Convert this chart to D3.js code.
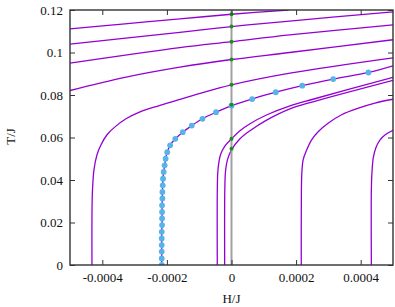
<!DOCTYPE html>
<html>
<head>
<meta charset="utf-8">
<script src="https://cdn.jsdelivr.net/npm/d3@7"></script>
<style>
    body { margin: 0; background: #fff; }
</style>
</head>
<body>
<div class="chart"></div>
<script>
// tick labels
const xTicks = [-0.0004, -0.0002, 0, 0.0002, 0.0004];
const yTicks = [0, 0.02, 0.04, 0.06, 0.08, 0.1, 0.12];

// purple lines, [H, T]
const line1 = [[-0.0005, 0.1111], [-0.00033, 0.1135], [-0.00016, 0.1158], [0, 0.1180], [0.000177, 0.1200]];
const line2 = [[-0.0005, 0.1039], [-0.00016, 0.1095], [0, 0.1122], [0.00018, 0.1148], [0.0005, 0.1191]];
const line3 = [[-0.0005, 0.0950], [-0.00016, 0.1023], [0, 0.1051], [0.00018, 0.1083], [0.0005, 0.1130]];
const line4 = [[-0.0005, 0.0821], [-0.00033, 0.0883], [-0.00016, 0.0931], [0, 0.0967], [0.00018, 0.1000], [0.0005, 0.1060]];
const line5 = [[-0.000432, 0], [-0.000432, 0.0237], [-0.0004303, 0.0355], [-0.0004257, 0.0449], [-0.0004164, 0.0519],
    [-0.000404, 0.0566], [-0.0003854, 0.0613], [-0.0003607, 0.0650], [-0.0003266, 0.0688], [-0.0002833, 0.0721],
    [-0.0002214, 0.0751], [-0.0000975, 0.0808], [0, 0.0848], [0.000181, 0.0903], [0.0005, 0.0975]];
const line6 = [[-0.0000440, 0], [-0.0000437, 0.0378], [-0.0000418, 0.0449], [-0.0000341, 0.0519], [-0.0000201, 0.0561],
    [0, 0.0594], [0.0000263, 0.0632], [0.0000573, 0.0665], [0.00011, 0.0707], [0.000181, 0.0749],
    [0.000252, 0.0780], [0.0005, 0.0883]];
const line7 = [[-0.0000211, 0], [-0.0000207, 0.0355], [-0.0000186, 0.0439], [-0.0000124, 0.0496], [0, 0.0542],
    [0.0000263, 0.0594], [0.0000573, 0.0632], [0.00011, 0.0683], [0.000181, 0.0735], [0.000252, 0.0768],
    [0.0005, 0.0869]];
const line8 = [[0.000216, 0], [0.0002164, 0.0355], [0.000218, 0.0439], [0.000222, 0.0496], [0.000233, 0.0542],
    [0.000248, 0.0589], [0.000269, 0.0628], [0.0003, 0.0668], [0.000341, 0.0707], [0.000393, 0.0738],
    [0.000444, 0.0762], [0.0005, 0.0780]];
const line9 = [[0.000433, 0], [0.000433, 0.0355], [0.000435, 0.0439], [0.000439, 0.0505], [0.000447, 0.0552],
    [0.00046, 0.0589], [0.000478, 0.0615], [0.0005, 0.0634]];

// blue points
const boundaryH = [-0.000216, -0.000216, -0.000216, -0.000216, -0.000216, -0.000216, -0.000215, -0.000215,
    -0.000215, -0.000215, -0.000214, -0.000214, -0.000213, -0.000212, -0.000210, -0.000207, -0.000204,
    -0.000199, -0.000190, -0.000174, -0.000151, -0.000123, -0.000090, -0.000048, 0, 0.000064, 0.000137,
    0.000219, 0.000315, 0.000424];
const boundaryT = [0, 0.0031, 0.0063, 0.0094, 0.0125, 0.0156, 0.0188, 0.0219, 0.0250, 0.0281, 0.0313,
    0.0344, 0.0375, 0.0406, 0.0438, 0.0469, 0.0500, 0.0531, 0.0563, 0.0594, 0.0625, 0.0656, 0.0688,
    0.0719, 0.0750, 0.0781, 0.0813, 0.0844, 0.0875, 0.0906];
const boundaryEnd = [0.0005, 0.0937];

// green points on H = 0
const zeroFieldT = [0.1180, 0.1122, 0.1051, 0.0967, 0.0848, 0.0754, 0.0594, 0.0547];

const serif = "'Liberation Serif', 'DejaVu Serif', serif";

let margin = {top: 10, right: 2, bottom: 42, left: 70},
    width = 395 - margin.left - margin.right,
    height = 307 - margin.top - margin.bottom;

let svg = d3.select(".chart")
    .append("svg")
    .attr("width", width + margin.left + margin.right)
    .attr("height", height + margin.top + margin.bottom)
    .append("g")
    .attr("transform", "translate(" + margin.left + "," + margin.top + ")");

let x = d3.scaleLinear().domain([-0.0005, 0.0005]).range([0, width]);
let y = d3.scaleLinear().domain([0, 0.12]).range([height, 0]);

let fmt = d => d == 0 ? "0" : String(+d.toFixed(4));

svg.append("clipPath").attr("id", "plot-clip")
    .append("rect").attr("width", width).attr("height", height);

let plot = svg.append("g").attr("clip-path", "url(#plot-clip)");

let boundaryLine = boundaryH.map((h, i) => [h, boundaryT[i]]).concat([boundaryEnd]);
let lines = [line1, line2, line3, line4, line5, line6, line7, line8, line9, boundaryLine];

let path = d3.line()
    .x(function(d) { return x(d[0]); })
    .y(function(d) { return y(d[1]); })
    .curve(d3.curveCatmullRom.alpha(0.5));

plot.selectAll(".iso")
    .data(lines)
    .enter()
    .append("path")
    .attr("class", "iso")
    .attr("d", path)
    .attr("fill", "none")
    .attr("stroke", "#9400d3")
    .attr("stroke-width", 1.3);

// zero field line
plot.append("line")
    .attr("x1", x(0)).attr("x2", x(0))
    .attr("y1", y(0)).attr("y2", y(0.12))
    .attr("stroke", "#a0a0a0")
    .attr("stroke-width", 2);

plot.selectAll(".bdot")
    .data(boundaryH)
    .enter()
    .append("circle")
    .attr("class", "bdot")
    .attr("cx", function(d) { return x(d); })
    .attr("cy", function(d, i) { return y(boundaryT[i]); })
    .attr("r", 2.9)
    .attr("fill", "#56b4e9");

plot.selectAll(".gdot")
    .data(zeroFieldT)
    .enter()
    .append("circle")
    .attr("class", "gdot")
    .attr("cx", x(0))
    .attr("cy", function(d) { return y(d); })
    .attr("r", 2)
    .attr("fill", "#1e8c1e");

// axes, ticks pointing inward on all four sides
let styleAxis = g => {
    g.attr("font-family", serif).attr("font-size", 13);
    g.select(".domain").remove();
    g.selectAll(".tick line").attr("stroke", "#333").attr("stroke-width", 1);
    g.selectAll(".tick text").attr("fill", "#111");
};

svg.append("g")
    .attr("transform", "translate(0," + height + ")")
    .call(d3.axisBottom(x).tickValues(xTicks).tickFormat(fmt).tickSizeInner(-5).tickSizeOuter(0).tickPadding(8))
    .call(styleAxis);
svg.append("g")
    .call(d3.axisTop(x).tickValues(xTicks).tickFormat("").tickSizeInner(-5).tickSizeOuter(0))
    .call(styleAxis);
svg.append("g")
    .call(d3.axisLeft(y).tickValues(yTicks).tickFormat(fmt).tickSizeInner(-5).tickSizeOuter(0).tickPadding(7))
    .call(styleAxis);
svg.append("g")
    .attr("transform", "translate(" + width + ",0)")
    .call(d3.axisRight(y).tickValues(yTicks).tickFormat("").tickSizeInner(-5).tickSizeOuter(0))
    .call(styleAxis);

svg.append("rect")
    .attr("width", width)
    .attr("height", height)
    .attr("fill", "none")
    .attr("stroke", "#333")
    .attr("stroke-width", 1.4);

svg.append("text")
    .attr("x", x(0))
    .attr("y", height + 38)
    .attr("font-family", serif)
    .attr("font-size", 13)
    .attr("fill", "#111")
    .style("text-anchor", "middle")
    .text("H/J");

svg.append("text")
    .attr("transform", "translate(" + (15 - margin.left) + "," + (height / 2 - 1) + ")rotate(-90)")
    .attr("font-family", serif)
    .attr("font-size", 13)
    .attr("fill", "#111")
    .style("text-anchor", "middle")
    .text("T/J");
</script>
</body>
</html>
